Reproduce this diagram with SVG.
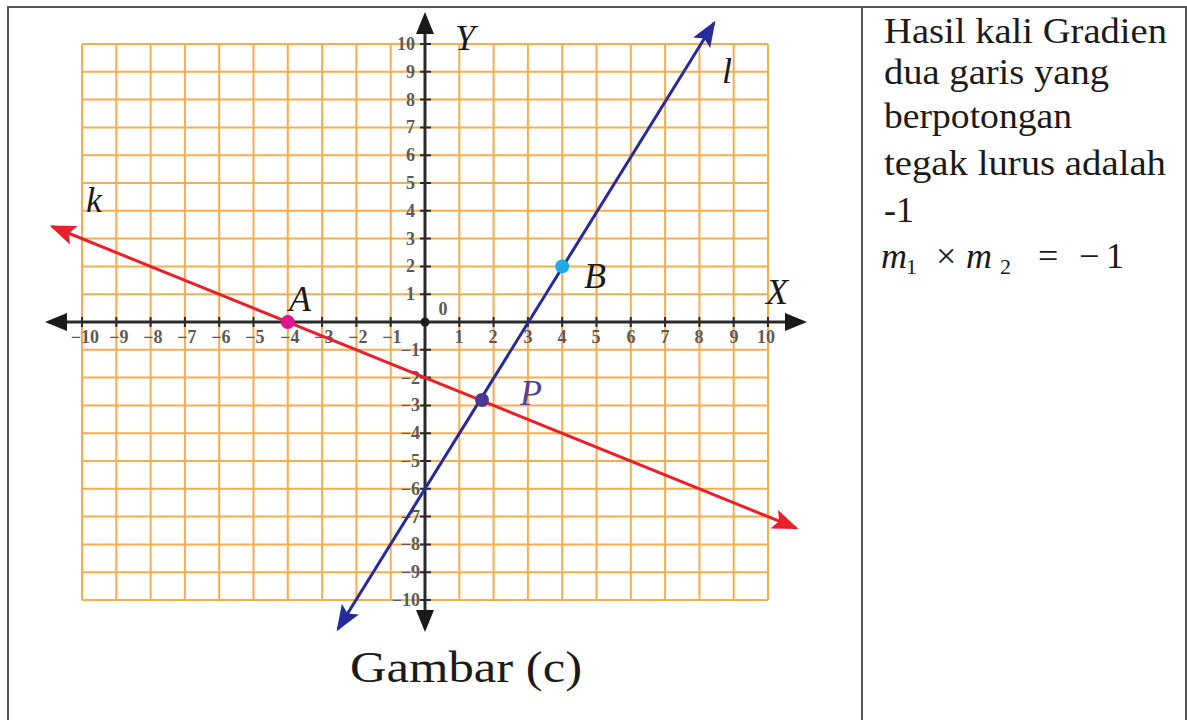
<svg xmlns="http://www.w3.org/2000/svg" width="1187" height="720" viewBox="0 0 1187 720">
<style>
.frame{stroke:#555;stroke-width:2;fill:none}
.grid{stroke:#f5ad4f;stroke-width:2;fill:none}
.axis{stroke:#2a2a2a;stroke-width:3;fill:none}
.tick{stroke:#2a2a2a;stroke-width:2}
.tl{font-family:"Liberation Serif","Times New Roman",Times,serif;font-size:18px;font-weight:bold;fill:#5a5a5a}
.lab{font-family:"Liberation Serif","Times New Roman",Times,serif;font-style:italic;font-size:36px;fill:#1a1a1a}
.txt{font-family:"Liberation Serif","Times New Roman",Times,serif;font-size:36px;fill:#1a1a1a}
</style>
<defs>
<marker id="ar" viewBox="0 0 10 10" refX="9" refY="5" markerWidth="26" markerHeight="20" markerUnits="userSpaceOnUse" orient="auto-start-reverse" preserveAspectRatio="none"><path d="M0,0 L10,5 L0,10 L2,5 Z" fill="#e8202a"/></marker>
<marker id="ab" viewBox="0 0 10 10" refX="9" refY="5" markerWidth="26" markerHeight="20" markerUnits="userSpaceOnUse" orient="auto-start-reverse" preserveAspectRatio="none"><path d="M0,0 L10,5 L0,10 L2,5 Z" fill="#262a9a"/></marker>
</defs>
<rect width="1187" height="720" fill="#fff"/>
<g id="frame">
<path class="frame" d="M8,720 V7 H1186 V720 M862,7 V720"/>
</g>
<g id="grid">
<path class="grid" d="M82,44 V600 M116.3,44 V600 M150.6,44 V600 M184.9,44 V600 M219.2,44 V600 M253.5,44 V600 M287.8,44 V600 M322.1,44 V600 M356.4,44 V600 M390.7,44 V600 M425,44 V600 M459.3,44 V600 M493.6,44 V600 M527.9,44 V600 M562.2,44 V600 M596.5,44 V600 M630.8,44 V600 M665.1,44 V600 M699.4,44 V600 M733.7,44 V600 M768,44 V600 M82,44 H768 M82,71.8 H768 M82,99.6 H768 M82,127.4 H768 M82,155.2 H768 M82,183 H768 M82,210.8 H768 M82,238.6 H768 M82,266.4 H768 M82,294.2 H768 M82,322 H768 M82,349.8 H768 M82,377.6 H768 M82,405.4 H768 M82,433.2 H768 M82,461 H768 M82,488.8 H768 M82,516.6 H768 M82,544.4 H768 M82,572.2 H768 M82,600 H768"/>
</g>
<g id="axes">
<line class="axis" x1="60" y1="322" x2="792" y2="322"/>
<line class="axis" x1="425" y1="26" x2="425" y2="618"/>
<path d="M425,12 L416,34 L434,34 Z M425,632 L416,610 L434,610 Z M45,322 L67,313 L67,331 Z M807,322 L785,313 L785,331 Z" fill="#1a1a1a"/>
<path class="tick" d="M82,317 V327 M116.3,317 V327 M150.6,317 V327 M184.9,317 V327 M219.2,317 V327 M253.5,317 V327 M287.8,317 V327 M322.1,317 V327 M356.4,317 V327 M390.7,317 V327 M459.3,317 V327 M493.6,317 V327 M527.9,317 V327 M562.2,317 V327 M596.5,317 V327 M630.8,317 V327 M665.1,317 V327 M699.4,317 V327 M733.7,317 V327 M768,317 V327 M420,44 H431 M420,71.8 H431 M420,99.6 H431 M420,127.4 H431 M420,155.2 H431 M420,183 H431 M420,210.8 H431 M420,238.6 H431 M420,266.4 H431 M420,294.2 H431 M420,349.8 H431 M420,377.6 H431 M420,405.4 H431 M420,433.2 H431 M420,461 H431 M420,488.8 H431 M420,516.6 H431 M420,544.4 H431 M420,572.2 H431 M420,600 H431"/>
<circle cx="425" cy="322" r="4.5" fill="#1a1a1a"/>
<g class="tl" text-anchor="middle">
<text x="85" y="343">−10</text><text x="119" y="343">−9</text><text x="153" y="343">−8</text><text x="187" y="343">−7</text><text x="221" y="343">−6</text><text x="255" y="343">−5</text><text x="290" y="343">−4</text><text x="324" y="343">−3</text><text x="358" y="343">−2</text><text x="392" y="343">−1</text>
<text x="459" y="343">1</text><text x="493" y="343">2</text><text x="528" y="343">3</text><text x="562" y="343">4</text><text x="596" y="343">5</text><text x="631" y="343">6</text><text x="665" y="343">7</text><text x="699" y="343">8</text><text x="734" y="343">9</text><text x="766" y="343">10</text>
<text x="443" y="315">0</text>
</g>
<g class="tl" text-anchor="end">
<text x="415" y="50">10</text><text x="415" y="78">9</text><text x="415" y="106">8</text><text x="415" y="133">7</text><text x="415" y="161">6</text><text x="415" y="189">5</text><text x="415" y="217">4</text><text x="415" y="245">3</text><text x="415" y="272">2</text><text x="415" y="300">1</text>
<text x="420" y="356">−1</text><text x="420" y="384">−2</text><text x="420" y="411">−3</text><text x="420" y="439">−4</text><text x="420" y="467">−5</text><text x="420" y="495">−6</text><text x="420" y="523">−7</text><text x="420" y="550">−8</text><text x="420" y="578">−9</text><text x="420" y="606">−10</text>
</g>
</g>
<g id="connectors">
<line id="line-k" x1="52" y1="226.5" x2="796" y2="528" stroke="#e8202a" stroke-width="3" marker-start="url(#ar)" marker-end="url(#ar)"/>
<line id="line-l" x1="338" y1="629" x2="714" y2="23" stroke="#262a9a" stroke-width="3" marker-start="url(#ab)" marker-end="url(#ab)"/>
</g>
<g id="point-A"><circle cx="287.8" cy="322" r="7" fill="#e2168c"/><text class="lab" x="289" y="311">A</text></g>
<g id="point-B"><circle cx="562.2" cy="266.4" r="7" fill="#1fa9e1"/><text class="lab" x="584" y="288">B</text></g>
<g id="point-P"><circle cx="482" cy="400" r="7" fill="#4b3a92"/><text class="lab" x="520" y="405" style="fill:#5a3d98">P</text></g>
<g id="labels">
<text class="lab" x="766" y="304">X</text>
<text class="lab" x="455" y="50">Y</text>
<text class="lab" x="86" y="212">k</text>
<text class="lab" x="722" y="83">l</text>
</g>
<g id="caption"><text class="txt" x="350" y="682" style="font-size:44px" textLength="232" lengthAdjust="spacingAndGlyphs">Gambar (c)</text></g>
<g id="note" class="txt">
<text x="884" y="43" textLength="283" lengthAdjust="spacingAndGlyphs">Hasil kali Gradien</text>
<text x="884" y="84" textLength="225" lengthAdjust="spacingAndGlyphs">dua garis yang</text>
<text x="884" y="128" textLength="188" lengthAdjust="spacingAndGlyphs">berpotongan</text>
<text x="884" y="175" textLength="282" lengthAdjust="spacingAndGlyphs">tegak lurus adalah</text>
<text x="884" y="222">-1</text>
<text y="268"><tspan x="881" font-style="italic">m</tspan><tspan x="906" y="274" style="font-size:22px">1</tspan><tspan x="936" y="268">×</tspan><tspan x="966" font-style="italic">m</tspan><tspan x="1000" y="274" style="font-size:22px">2</tspan><tspan x="1038" y="268">=</tspan><tspan x="1079">−</tspan><tspan x="1106">1</tspan></text>
</g>
</svg>
